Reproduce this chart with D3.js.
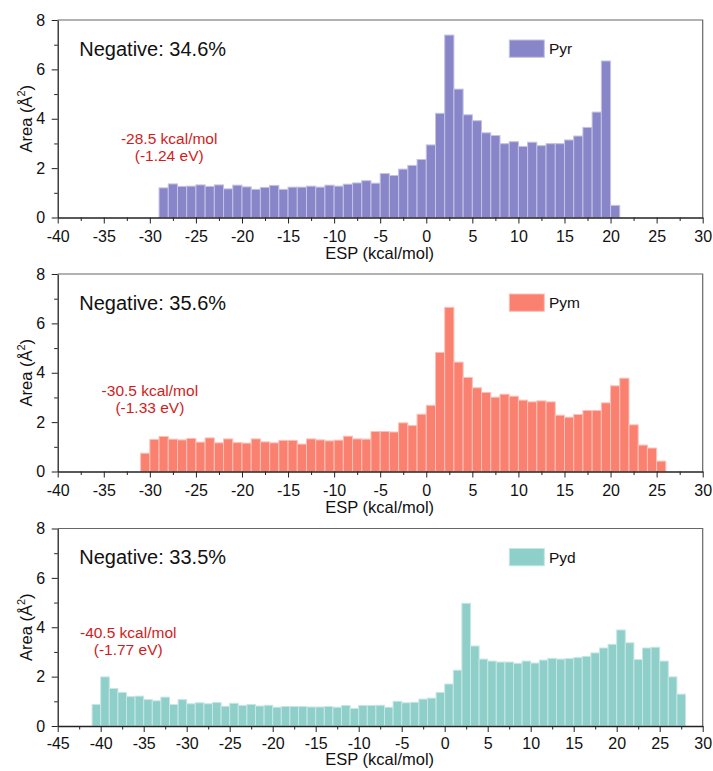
<!DOCTYPE html>
<html>
<head>
<meta charset="utf-8">
<script src="https://cdn.jsdelivr.net/npm/d3@7"></script>
<style>
  body { margin: 0; background: #fff; }
  text { font-family: "Liberation Sans", Arial, sans-serif; }
</style>
</head>
<body>
<svg id="chart" width="713" height="771"></svg>
<script>
// Surface-area histograms of electrostatic potential (1 kcal/mol bins).
// Each series starts at its first bin's left edge.
const pyrBinStart = -29;
const pyrArea = [1.20,1.36,1.26,1.27,1.32,1.26,1.32,1.16,1.31,1.24,
                 1.14,1.22,1.30,1.14,1.23,1.23,1.27,1.23,1.31,1.27,
                 1.35,1.40,1.49,1.39,1.78,1.70,1.96,2.11,2.35,2.94,
                 4.22,7.39,5.20,4.16,3.92,3.43,3.32,2.99,3.07,2.88,
                 3.05,2.91,2.99,2.99,3.14,3.30,3.65,4.27,6.34,0.49];

const pymBinStart = -31;
const pymArea = [0.74,1.30,1.42,1.31,1.28,1.34,1.19,1.36,1.16,1.32,
                 1.17,1.15,1.32,1.20,1.16,1.26,1.26,1.11,1.32,1.28,
                 1.24,1.27,1.43,1.32,1.31,1.62,1.62,1.60,1.97,1.86,
                 2.32,2.68,4.82,6.65,4.43,3.81,3.39,3.20,3.01,3.13,
                 3.05,2.89,2.82,2.86,2.82,2.28,2.20,2.31,2.47,2.47,
                 2.78,3.47,3.78,1.89,1.07,0.95,0.42];

const pydBinStart = -41;
const pydArea = [0.87,1.99,1.52,1.36,1.19,1.21,1.07,1.02,1.17,0.87,
                 1.07,0.90,0.94,0.90,0.95,0.80,0.92,0.83,0.87,0.81,
                 0.84,0.76,0.79,0.79,0.79,0.77,0.77,0.79,0.76,0.83,
                 0.71,0.83,0.83,0.84,0.76,1.00,0.94,0.96,1.09,1.13,
                 1.36,1.70,2.26,4.97,3.24,2.71,2.63,2.59,2.59,2.54,
                 2.63,2.55,2.67,2.74,2.71,2.73,2.77,2.82,2.96,3.16,
                 3.31,3.89,3.37,2.69,3.16,3.19,2.63,1.99,1.29];

// Axis ticks
const espTicksWide = [-40,-35,-30,-25,-20,-15,-10,-5,0,5,10,15,20,25,30];
const espTicksPyd  = [-45,-40,-35,-30,-25,-20,-15,-10,-5,0,5,10,15,20,25,30];
const areaTicks = [0,2,4,6,8];

// Text annotations
const negativeShares = ["Negative: 34.6%", "Negative: 35.6%", "Negative: 33.5%"];
const pyrMinimum = ["-28.5 kcal/mol", "(-1.24 eV)"];
const pymMinimum = ["-30.5 kcal/mol", "(-1.33 eV)"];
const pydMinimum = ["-40.5 kcal/mol", "(-1.77 eV)"];

const svg = d3.select("#chart");
const left = 57.7, right = 702.7, plotH = 197.5;

const panels = [
  { name: "Pyr", start: pyrBinStart, area: pyrArea, ticks: espTicksWide,
    color: "#8985c9", top: 20, negative: negativeShares[0], minimum: pyrMinimum,
    minAt: [-27.9, 2.97], tickDy: 15, titleDy: 41.5 },
  { name: "Pym", start: pymBinStart, area: pymArea, ticks: espTicksWide,
    color: "#fa8070", top: 274, negative: negativeShares[1], minimum: pymMinimum,
    minAt: [-30.0, 3.04], tickDy: 15, titleDy: 41.5 },
  { name: "Pyd", start: pydBinStart, area: pydArea, ticks: espTicksPyd,
    color: "#8ecfc9", top: 528.5, negative: negativeShares[2], minimum: pydMinimum,
    minAt: [-36.8, 3.57], tickDy: 13.5, titleDy: 39 }
];

panels.forEach(p => {
  const g = svg.append("g");
  const x = d3.scaleLinear()
    .domain([p.ticks[0], p.ticks[p.ticks.length - 1]])
    .range([left, right]);
  const y = d3.scaleLinear().domain([0, 8]).range([p.top + plotH, p.top]);
  const bottom = p.top + plotH;

  const bins = p.area.map((v, i) => ({ x0: p.start + i, x1: p.start + i + 1, v }));
  const edge = d3.interpolateRgb(p.color, "#ffffff")(0.5);

  // bars
  g.append("g").selectAll("rect").data(bins).join("rect")
    .attr("x", d => x(d.x0))
    .attr("width", d => x(d.x1) - x(d.x0))
    .attr("y", d => y(d.v))
    .attr("height", d => y(0) - y(d.v))
    .attr("fill", p.color)
    .attr("stroke", edge)
    .attr("stroke-width", 1);

  // frame (top and right)
  g.append("path")
    .attr("d", `M${left},${p.top}H${right}V${bottom}`)
    .attr("fill", "none").attr("stroke", "#666").attr("stroke-width", 1.2);

  // x axis: major + minor ticks
  const xMinor = d3.range(x.domain()[0] + 2.5, x.domain()[1], 5);
  g.append("g").attr("transform", `translate(0,${bottom})`)
    .call(d3.axisBottom(x).tickValues(xMinor).tickSize(3.5).tickFormat(""))
    .call(a => a.select(".domain").remove());
  const xa = g.append("g").attr("transform", `translate(0,${bottom})`)
    .call(d3.axisBottom(x).tickValues(p.ticks).tickSize(6).tickSizeOuter(0).tickFormat(d3.format("d")));
  xa.select(".domain").attr("stroke", "#222").attr("stroke-width", 1.3);
  xa.selectAll("text").attr("font-size", 16).attr("fill", "#111").attr("dy", p.tickDy)
    .text(d => d < 0 ? "-" + Math.abs(d) : d);

  // y axis: major + minor ticks
  g.append("g").attr("transform", `translate(${left},0)`)
    .call(d3.axisLeft(y).tickValues([1,3,5,7]).tickSize(3.5).tickFormat(""))
    .call(a => a.select(".domain").remove());
  const ya = g.append("g").attr("transform", `translate(${left},0)`)
    .call(d3.axisLeft(y).tickValues(areaTicks).tickSize(6).tickSizeOuter(0));
  ya.select(".domain").attr("stroke", "#222").attr("stroke-width", 1.3);
  ya.selectAll("text").attr("font-size", 16).attr("fill", "#111").attr("x", -12.5);
  g.selectAll(".tick line").attr("stroke", "#222");

  // axis titles
  g.append("text")
    .attr("x", (left + right) / 2 - 0.5).attr("y", bottom + p.titleDy)
    .attr("text-anchor", "middle").attr("font-size", 16.5).attr("fill", "#111")
    .text("ESP (kcal/mol)");
  const yt = g.append("text")
    .attr("transform", `translate(31.5,${(p.top + bottom) / 2}) rotate(-90)`)
    .attr("text-anchor", "middle").attr("font-size", 16.5).attr("fill", "#111");
  yt.append("tspan").text("Area (Å");
  yt.append("tspan").attr("font-size", 11).attr("dy", -6.5).text("2");
  yt.append("tspan").attr("dy", 6.5).text(")");

  // share of negative surface
  g.append("text")
    .attr("x", left + 21.6).attr("y", p.top + 35.5)
    .attr("font-size", 20).attr("fill", "#111")
    .text(p.negative);

  // minimum ESP annotation
  const mt = g.append("text")
    .attr("text-anchor", "middle").attr("font-size", 15.5).attr("fill", "#d01c1c");
  mt.append("tspan").attr("x", x(p.minAt[0])).attr("y", y(p.minAt[1])).text(p.minimum[0]);
  mt.append("tspan").attr("x", x(p.minAt[0])).attr("dy", 17).text(p.minimum[1]);

  // legend
  g.append("rect")
    .attr("x", 509.3).attr("y", p.top + 20).attr("width", 35).attr("height", 17.3)
    .attr("fill", p.color).attr("stroke", edge).attr("stroke-width", 1);
  g.append("text")
    .attr("x", 549).attr("y", p.top + 34.2)
    .attr("font-size", 15.5).attr("fill", "#111")
    .text(p.name);
});
</script>
</body>
</html>
